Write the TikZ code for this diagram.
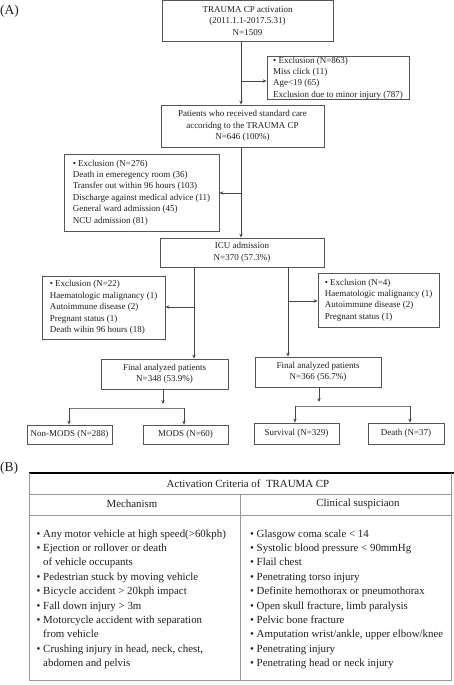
\documentclass[tikz,border=0pt]{standalone}
\usepackage{fontspec}
\setmainfont{Liberation Serif}
\usetikzlibrary{arrows.meta,calc}
\definecolor{boxc}{RGB}{85,85,85}
\definecolor{linec}{RGB}{70,70,70}
\definecolor{brc}{RGB}{120,120,120}
\definecolor{tabc}{RGB}{150,150,150}
\definecolor{txt}{RGB}{30,30,30}
\begin{document}
\begin{tikzpicture}[x=1pt,y=-1pt,
 box/.style={draw=boxc, line width=0.8pt, inner sep=0pt, font=\fontsize{9}{11.4}\selectfont, text=txt},
 lbox/.style={box, align=left},
 cbox/.style={box, align=center},
 arr/.style={draw=linec, line width=0.8pt, -{Stealth[length=4pt,width=3.4pt]}},
 ln/.style={draw=brc, line width=0.8pt},
 tline/.style={draw=tabc, line width=0.8pt},
 ttext/.style={font=\fontsize{10.9}{14}\selectfont, text=txt, inner sep=0pt, anchor=base west},
 lab/.style={font=\fontsize{13.5}{16}\selectfont, text=txt, inner sep=0pt},
]
\useasboundingbox (0,0) rectangle (454,685);

% labels
\node[lab, anchor=west] (la) at (0,11) {(A)};
\node[lab, anchor=west] (lb) at (0,468) {(B)};

% flowchart boxes
\node[cbox, minimum width=171pt, minimum height=40.5pt] (b1) at (247.5,21) {TRAUMA CP activation\\(2011.1.1-2017.5.31)\\N=1509};
\node[lbox, minimum width=142pt, minimum height=42pt] (e1) at (338,78) {• Exclusion (N=863)\\Miss click (11)\\Age<19 (65)\\Exclusion due to minor injury (787)};
\node[cbox, minimum width=163pt, minimum height=42pt] (b3) at (242.5,126) {Patients who received standard care\\accoridng to the TRAUMA CP\\N=646 (100\%)};
\node[lbox, minimum width=155pt, minimum height=77pt] (e2) at (141.5,192.5) {• Exclusion (N=276)\\Death in emeregency room (36)\\Transfer out within 96 hours (103)\\Discharge against medical advice (11)\\General ward admission (45)\\NCU admission (81)};
\node[cbox, minimum width=164pt, minimum height=29pt] (icu) at (242,252.5) {ICU admission\\N=370 (57.3\%)};
\node[lbox, minimum width=123pt, minimum height=63pt] (e3) at (103.5,307.5) {• Exclusion (N=22)\\Haematologic malignancy (1)\\Autoimmune disease (2)\\Pregnant status (1)\\Death wihin 96 hours (18)};
\node[lbox, minimum width=121pt, minimum height=54pt] (e4) at (378.5,300) {• Exclusion (N=4)\\Haematologic malignancy (1)\\Autoimmune disease (2)\\Pregnant status (1)};
\node[cbox, minimum width=127pt, minimum height=30pt] (fL) at (164.5,374) {Final analyzed patients\\N=348 (53.9\%)};
\node[cbox, minimum width=126pt, minimum height=30pt] (fR) at (318,372) {Final analyzed patients\\N=366 (56.7\%)};
\node[cbox, minimum width=85pt, minimum height=19pt] (nm) at (69.5,434.5) {Non-MODS (N=288)};
\node[cbox, minimum width=85pt, minimum height=19pt] (mods) at (185.5,434.5) {MODS (N=60)};
\node[cbox, minimum width=85pt, minimum height=21pt] (surv) at (296.5,433.5) {Survival (N=329)};
\node[cbox, minimum width=76pt, minimum height=21pt] (death) at (406,433.5) {Death (N=37)};

% connectors
\coordinate (c1) at (241,81);
\draw[arr] (c1 |- b1.south) -- (c1 |- b3.north);
\draw[arr] (c1) -- (c1 -| e1.west);
\coordinate (c2) at (241,193);
\draw[arr] (c2 |- b3.south) -- (c2 |- icu.north);
\draw[arr] (c2) -- (c2 -| e2.east);
\coordinate (c3) at (194,307);
\draw[arr] (c3 |- icu.south) -- (c3 |- fL.north);
\draw[arr] (c3) -- (c3 -| e3.east);
\coordinate (c4) at (288,301);
\draw[arr] (c4 |- icu.south) -- (c4 |- fR.north);
\draw[arr] (c4) -- (c4 -| e4.west);
\coordinate (c5) at (163,404);
\draw[arr] (c5 |- fL.south) -- (c5);
\coordinate (c6) at (69,408);
\coordinate (c7) at (184,408);
\draw[ln] (c6) -- (c7);
\draw[arr] (c6) -- (c6 |- nm.north);
\draw[arr] (c7) -- (c7 |- mods.north);
\coordinate (c8) at (319,402);
\draw[arr] (c8 |- fR.south) -- (c8);
\coordinate (c9) at (295,406);
\coordinate (c10) at (410,406);
\draw[ln] (c9) -- (c10);
\draw[arr] (c9) -- (c9 |- surv.north);
\draw[arr] (c10) -- (c10 |- death.north);

% table
\draw[black, line width=1.1pt] (29,473) -- (454,473);
\draw[tline] (29,473) -- (29,680) -- (451,680) -- (451,473);
\draw[tline] (29,494) -- (451,494);
\draw[tline] (29,515) -- (451,515);
\draw[tline] (240,494) -- (240,680);

\node[ttext, anchor=center] (tt) at (248,483.5) {Activation Criteria of\ \ TRAUMA CP};
\node[ttext, anchor=center] (mh) at (132,504) {Mechanism};
\node[ttext, anchor=center] (chh) at (358,504) {Clinical suspiciaon};

\foreach \t [count=\i from 0] in {{• Any motor vehicle at high speed(>60kph)},{• Ejection or rollover or death},{\phantom{•} of vehicle occupants},{• Pedestrian stuck by moving vehicle},{• Bicycle accident > 20kph impact},{• Fall down injury > 3m},{• Motorcycle accident with separation},{\phantom{•} from vehicle},{• Crushing injury in head, neck, chest,},{\phantom{•} abdomen and pelvis}}
  \node[ttext] (l\i) at (36.5,{537+14.4*\i}) {\t};

\foreach \t [count=\i from 0] in {{• Glasgow coma scale < 14},{• Systolic blood pressure < 90mmHg},{• Flail chest},{• Penetrating torso injury},{• Definite hemothorax or pneumothorax},{• Open skull fracture, limb paralysis},{• Pelvic bone fracture},{• Amputation wrist/ankle, upper elbow/knee},{• Penetrating injury},{• Penetrating head or neck injury}}
  \node[ttext] (r\i) at (250,{537+14.4*\i}) {\t};

\end{tikzpicture}
\end{document}
